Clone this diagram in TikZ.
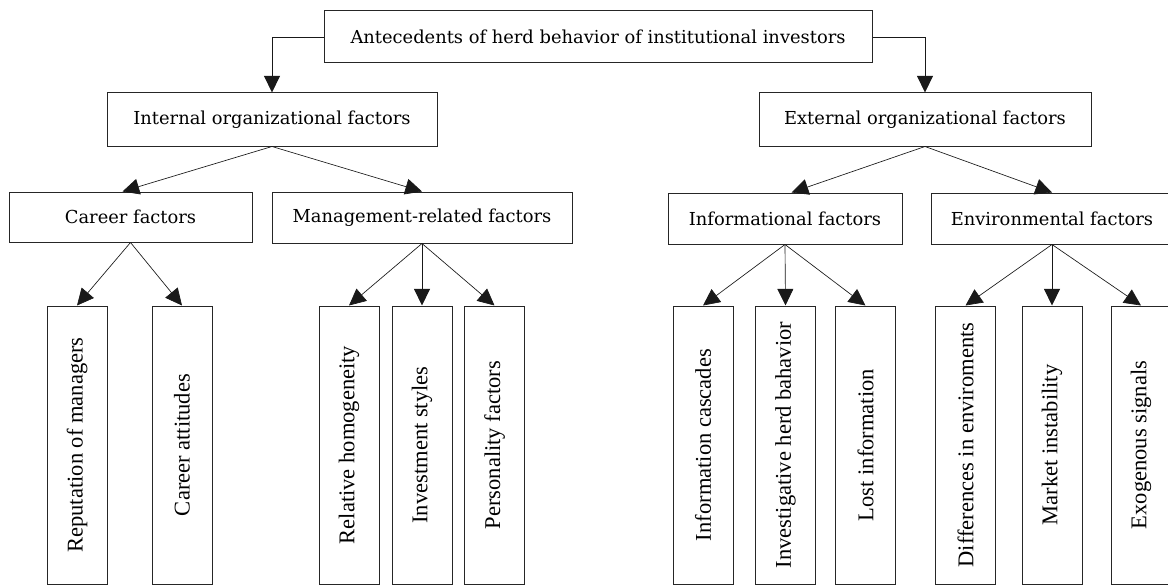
\documentclass[tikz,border=0pt]{standalone}
\usepackage{fontspec}
\usepackage{graphicx}
\usetikzlibrary{arrows.meta}
\setmainfont{DejaVu Serif}
\newfontfamily\leaffont{Liberation Serif}

\begin{document}
\begin{tikzpicture}[x=0.75pt, y=-0.75pt,
  box/.style={draw=black!85, line width=0.75pt, rectangle, inner sep=0pt,
              font=\fontsize{13.4}{16}\selectfont},
  leafbox/.style={draw=black!85, line width=0.75pt, rectangle, inner sep=0pt,
              minimum width=45pt, minimum height=208.5pt,
              font=\leaffont\fontsize{16.9}{20}\selectfont},
  link/.style={draw=black!90, line width=0.5pt,
               -{Triangle[length=12.5pt, width=12pt]}}]

\useasboundingbox (0,0) rectangle (1168,585);
\clip (0,0) rectangle (1168,585);

% root
\node[box, minimum width=411pt, minimum height=39pt] (root) at (598,37)
  {Antecedents of herd behavior of institutional investors};

% second level
\node[box, minimum width=247.5pt, minimum height=39.75pt] (int) at (272,119.5)
  {Internal organizational factors};
\node[box, minimum width=249pt, minimum height=39.75pt] (ext) at (925,119.5)
  {External organizational factors};

% third level
\node[box, minimum width=182.25pt, minimum height=37.5pt] (career) at (130.5,217)
  {Career factors};
\node[box, minimum width=225pt, minimum height=38.25pt] (mgmt) at (422,217.5)
  {Management-related factors};
\node[box, minimum width=175.5pt, minimum height=38.25pt] (info) at (785,218.5)
  {Informational factors};
\node[box, minimum width=181.5pt, minimum height=38.25pt] (env) at (1052,218.5)
  {Environmental factors};

% leaves
\node[leafbox] (rep)  at (77,445)    {\rotatebox{90}{Reputation of managers}};
\node[leafbox] (catt) at (182,445)   {\rotatebox{90}{Career attitudes}};
\node[leafbox] (rel)  at (349,445)   {\rotatebox{90}{Relative homogeneity}};
\node[leafbox] (inv)  at (422,445)   {\rotatebox{90}{Investment styles}};
\node[leafbox] (pers) at (494.5,445) {\rotatebox{90}{Personality factors}};
\node[leafbox] (casc) at (703,445)   {\rotatebox{90}{Information cascades}};
\node[leafbox] (herd) at (785.5,445) {\rotatebox{90}{Investigative herd bahavior}};
\node[leafbox] (lost) at (865.5,445) {\rotatebox{90}{Lost information}};
\node[leafbox] (diff) at (965.5,445) {\rotatebox{90}{Differences in enviroments}};
\node[leafbox] (mkt)  at (1052,445)  {\rotatebox{90}{Market instability}};
\node[leafbox] (exo)  at (1141,445)  {\rotatebox{90}{Exogenous signals}};

% connectors
\draw[link] (root.west) -| (int.north);
\draw[link] (root.east) -| (ext.north);

\draw[link] (int.south) -- ([xshift=-6pt]career.north);
\draw[link] (int.south) -- (mgmt.north);
\draw[link] (ext.south) -- ([xshift=5pt]info.north);
\draw[link] (ext.south) -- (env.north);

\draw[link] (career.south) -- (rep.north);
\draw[link] (career.south) -- (catt.north);

\draw[link] (mgmt.south) -- (rel.north);
\draw[link] (mgmt.south) -- (inv.north);
\draw[link] (mgmt.south) -- (pers.north);

\draw[link] (info.south) -- (casc.north);
\draw[link] (info.south) -- (herd.north);
\draw[link] (info.south) -- (lost.north);

\draw[link] (env.south) -- (diff.north);
\draw[link] (env.south) -- (mkt.north);
\draw[link] (env.south) -- (exo.north);
\end{tikzpicture}
\end{document}
